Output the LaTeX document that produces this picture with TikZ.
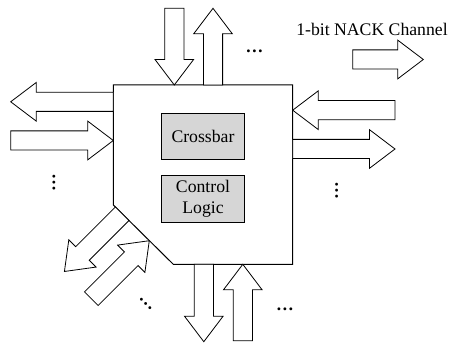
\documentclass[tikz,border=0pt]{standalone}
\usepackage{fontspec}
\setmainfont{Liberation Serif}
\begin{document}
\begin{tikzpicture}[x=1pt,y=1pt,
  arrowline/.style={draw=black,fill=white,line width=0.8pt,line join=miter},
  barrow/.pic={\path[arrowline] (0,-9.6) -- ({#1-25.5},-9.6) -- ({#1-25.5},-19.3) -- (#1,0) -- ({#1-25.5},19.3) -- ({#1-25.5},9.6) -- (0,9.6) -- cycle;},
  unit/.style={draw=black,fill=black!16,line width=0.8pt,minimum width=82.6pt,minimum height=46pt,inner sep=0pt,align=center,font=\fontsize{17.7}{21}\selectfont},
  lbl/.style={inner sep=0pt,font=\fontsize{17.7}{21}\selectfont},
  dotlbl/.style={inner sep=0pt,font=\bfseries\fontsize{17.7}{21}\selectfont}]
\useasboundingbox (0,0) rectangle (450,345);
% router body
\draw[line width=1pt,fill=white] (113.3,260) coordinate (tl) -- (292.7,260) coordinate (tr) -- (292.7,80.7) coordinate (br) -- (173.3,80.7) coordinate (bb) -- (113.3,140) coordinate (bl) -- cycle;
% arrows
\pic[rotate=-90] at (174.3,336.7) {barrow=76.7};
\pic[rotate=90] at (213,260) {barrow=76.7};
\pic at (352.7,285.5) {barrow=70.6};
\pic[rotate=180] at (113.3,243.2) {barrow=102.6};
\pic at (10.7,204.5) {barrow=102.6};
\pic[rotate=180] at (395,234.8) {barrow=102.3};
\pic at (292.7,196) {barrow=102.3};
\pic[rotate=-90] at (203.8,80.7) {barrow=77.4};
\pic[rotate=90] at (242.8,4.3) {barrow=76.4};
\pic[rotate=-135] at (122.2,131.3) {barrow=81.7};
\pic[rotate=45] at (91.3,46.3) {barrow=82};
% inner blocks
\node[unit] (xbar) at (203,208.7) {Crossbar};
\node[unit,minimum height=46.6pt] (ctrl) at (203,146) {Control\\Logic};
% labels
\node[lbl] (nack) at (372,315.7) {1-bit NACK Channel};
\node[dotlbl] (d1) at (254.5,293.3) {\ldots};
\node[dotlbl] (d2) at (285,35.7) {\ldots};
\node[dotlbl,rotate=90] (d3) at (54,162) {\ldots};
\node[dotlbl,rotate=90] (d4) at (336.7,154) {\ldots};
\node[dotlbl,rotate=-45] (d5) at (145.7,41.3) {\ldots};
\end{tikzpicture}
\end{document}
